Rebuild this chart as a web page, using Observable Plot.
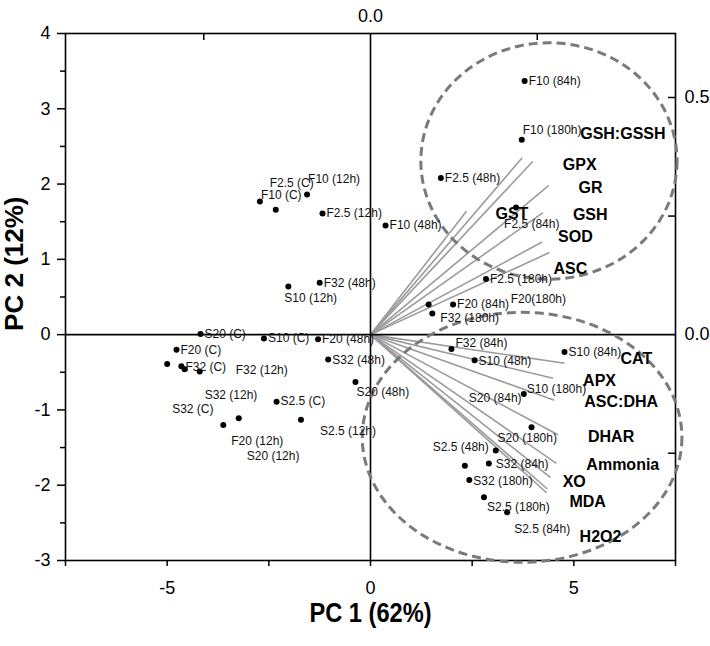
<!DOCTYPE html>
<html><head><meta charset="utf-8">
<script src="https://cdn.jsdelivr.net/npm/d3@7"></script>
<script src="https://cdn.jsdelivr.net/npm/@observablehq/plot@0.6"></script>
<style>
  html,body{margin:0;padding:0;background:#fff;}
  #chart svg{display:block;}
</style>
</head><body><div id="chart"></div>
<script>
// ---- sample scores (PC1, PC2) ----
const sampleNames = [
  "F10 (C)","F2.5 (C)","F10 (12h)","F2.5 (12h)","F32 (48h)","S10 (12h)",
  "S20 (C)","S10 (C)","F20 (48h)","F20 (C)","S32 (C)","F32 (C)","S32 (12h)","F32 (12h)",
  "S32 (48h)","S20 (48h)","S2.5 (C)","F20 (12h)","S20 (12h)","S2.5 (12h)",
  "F10 (48h)","F2.5 (180h)","F20 (84h)","F20(180h)","F32 (180h)",
  "F10 (84h)","F10 (180h)","F2.5 (48h)","F2.5 (84h)",
  "F32 (84h)","S10 (48h)","S10 (84h)","S10 (180h)","S20 (84h)","S20 (180h)",
  "S2.5 (48h)","S32 (84h)","S32 (180h)","S2.5 (180h)","S2.5 (84h)"
];
const pc1 = [
  -2.72,-2.33,-1.56,-1.18,-1.25,-2.02,
  -4.18,-2.62,-1.29,-4.77,-5.00,-4.65,-4.57,-4.20,
  -1.04,-0.37,-2.31,-3.62,-3.24,-1.71,
  0.37,2.84,2.03,1.43,1.52,
  3.79,3.72,1.73,3.58,
  1.99,2.56,4.77,3.77,2.32,3.96,
  3.08,2.91,2.43,2.79,3.36
];
const pc2 = [
  1.77,1.66,1.86,1.61,0.69,0.64,
  0.01,-0.05,-0.06,-0.20,-0.39,-0.42,-0.46,-0.49,
  -0.33,-0.63,-0.89,-1.20,-1.11,-1.13,
  1.45,0.74,0.40,0.40,0.28,
  3.37,2.59,2.08,1.69,
  -0.19,-0.34,-0.23,-0.79,-1.74,-1.23,
  -1.54,-1.71,-1.93,-2.16,-2.36
];

// ---- variable loadings (biplot-scaled to PC score units) ----
const variableNames = ["GSH:GSSH","GPX","GR","GST","GSH","SOD","ASC",
  "CAT","APX","ASC:DHA","DHAR","Ammonia","XO","MDA","H2O2"];
const loadX = [3.73,3.99,4.38,2.36,4.24,4.22,4.40, 4.77,4.49,4.52,4.61,4.57,4.43,4.35,4.33];
const loadY = [2.35,2.30,1.98,1.64,1.62,1.23,1.09, -0.38,-0.58,-0.87,-1.33,-1.71,-1.90,-2.05,-2.10];

// ---- grouping ellipses (center, radii in PC units) ----
const ellipseCx = [4.40, 3.74];
const ellipseCy = [2.30, -1.37];
const ellipseRx = [3.15, 3.93];
const ellipseRy = [1.57, 1.66];

// ---- axes ----
const xDomain = [-7.5, 7.5];
const yDomain = [-3, 4];
const xMajorTicks = [-5, 0, 5];
const xMinorTicks = [-7.5, -2.5, 2.5, 7.5];
const yMajorTicks = [-3, -2, -1, 0, 1, 2, 3, 4];
const yMinorTicks = [-2.5, -1.5, -0.5, 0.5, 1.5, 2.5, 3.5];
const loadingScaleX = 8.2;   // PC units per loading unit (top axis)
const loadingScaleY = 6.3;   // PC units per loading unit (right axis)
const topLoadingTicks = [-0.5, 0.5];
const topLoadingLabels = [0.0];
const rightLoadingTicks = [-0.25, 0.25, 0.5];
const rightLoadingLabels = [0.0, 0.5];
const xTitle = "PC 1 (62%)";
const yTitle = "PC 2 (12%)";

// ---- label placement (pixel offsets, styling only) ----
const samplePlacement = {
  "F10 (C)":[1,-6],"F2.5 (C)":[-6,-27],"F10 (12h)":[1,-15],"F2.5 (12h)":[4,0],
  "F32 (48h)":[4,0],"S10 (12h)":[-4,12],"S20 (C)":[4,0],"S10 (C)":[4,0],
  "F20 (48h)":[4,0],"F20 (C)":[4,0],"S32 (C)":[5,45],"F32 (C)":[4,1],
  "S32 (12h)":[20,26],"F32 (12h)":[36,-1],"S32 (48h)":[4,1],"S20 (48h)":[1,10],
  "S2.5 (C)":[4,0],"F20 (12h)":[8,16],"S20 (12h)":[8,38],"S2.5 (12h)":[19,11],
  "F10 (48h)":[4,0],"F2.5 (180h)":[4,0],"F20 (84h)":[4,0],"F20(180h)":[82,-5],
  "F32 (180h)":[8,5],"F10 (84h)":[4,0],"F10 (180h)":[1,-9],"F2.5 (48h)":[4,0],
  "F2.5 (84h)":[-12,17],"F32 (84h)":[4,-6],"S10 (48h)":[4,1],"S10 (84h)":[4,0],
  "S10 (180h)":[3,-5],"S20 (84h)":[4,-67],"S20 (180h)":[-34,11],
  "S2.5 (48h)":[-7,-3,"end"],"S32 (84h)":[7,1],"S32 (180h)":[4,1],
  "S2.5 (180h)":[3,10],"S2.5 (84h)":[7,17]
};
const variablePlacement = {
  "GSH:GSSH":[58,-24],"GPX":[30,3],"GR":[30,2],"GST":[29,3],"GSH":[30,2],
  "SOD":[16,-5],"ASC":[4,16],"CAT":[56,-4],"APX":[30,3],"ASC:DHA":[30,2],
  "DHAR":[30,2],"Ammonia":[30,1],"XO":[12,4],"MDA":[22,13],"H2O2":[33,44]
};

const samples = sampleNames.map((name, i) => ({name, x: pc1[i], y: pc2[i]}));
const variables = variableNames.map((name, i) => ({name, x: loadX[i], y: loadY[i]}));
const ellipses = ellipseCx.map((cx, i) => ({cx, cy: ellipseCy[i], rx: ellipseRx[i], ry: ellipseRy[i]}));

const sans = "'Liberation Sans',Arial,Helvetica,sans-serif";
const fmtInt = d => String(d);
const frameW = 710 - 65 - 35, frameH = 646 - 33 - 86;

const ellipseMark = (index, scales) => {
  const ns = "http://www.w3.org/2000/svg";
  const g = document.createElementNS(ns, "g");
  for (const e of ellipses) {
    const el = document.createElementNS(ns, "ellipse");
    const cx = scales.x(e.cx), cy = scales.y(e.cy);
    el.setAttribute("cx", cx);
    el.setAttribute("cy", cy);
    el.setAttribute("rx", Math.abs(scales.x(e.cx + e.rx) - cx));
    el.setAttribute("ry", Math.abs(scales.y(e.cy + e.ry) - cy));
    el.setAttribute("fill", "none");
    el.setAttribute("stroke", "#7a7a7a");
    el.setAttribute("stroke-width", 3);
    el.setAttribute("stroke-dasharray", "9,5");
    g.appendChild(el);
  }
  return g;
};

const sampleLabelMarks = samples.map(s => {
  const p = samplePlacement[s.name] || [4, 0];
  return Plot.text([s], {x: "x", y: "y", text: "name", dx: p[0], dy: p[1],
    textAnchor: p[2] || "start", fontSize: 12, fontFamily: sans, fill: "#111"});
});
const variableLabelMarks = variables.map(v => {
  const p = variablePlacement[v.name] || [30, 2];
  return Plot.text([v], {x: "x", y: "y", text: "name", dx: p[0], dy: p[1],
    textAnchor: "start", fontSize: 16, fontWeight: "bold", fontFamily: sans, fill: "#000"});
});

const chart = Plot.plot({
  width: 710,
  height: 646,
  marginLeft: 65,
  marginRight: 35,
  marginTop: 33,
  marginBottom: 86,
  style: {fontFamily: sans, fontSize: "18px", color: "#000", background: "#fff"},
  x: {domain: xDomain, axis: null},
  y: {domain: yDomain, axis: null},
  marks: [
    // bottom axis
    Plot.axisX({ticks: xMajorTicks, anchor: "bottom", tickSize: 6, tickPadding: 15, fontSize: 18, tickFormat: fmtInt, label: null, strokeWidth: 1.5}),
    Plot.axisX({ticks: xMinorTicks, anchor: "bottom", tickSize: 6, tickFormat: () => "", label: null, strokeWidth: 1.5}),
    // left axis
    Plot.axisY({ticks: yMajorTicks, anchor: "left", tickSize: 8, tickPadding: 7, fontSize: 18, tickFormat: fmtInt, label: null, strokeWidth: 1.5}),
    Plot.axisY({ticks: yMinorTicks, anchor: "left", tickSize: 5, tickFormat: () => "", label: null, strokeWidth: 1.5}),
    // top (loading) axis: inward ticks + label
    Plot.ruleX(topLoadingTicks.map(v => v * loadingScaleX), {stroke: "#000", strokeWidth: 1.5, insetBottom: frameH - 7}),
    Plot.axisX({ticks: topLoadingLabels.map(v => v * loadingScaleX), anchor: "top", tickSize: 0, tickPadding: 12, fontSize: 18,
      tickFormat: d => d3.format(".1f")(d / loadingScaleX), label: null}),
    // right (loading) axis: inward ticks + labels
    Plot.ruleY(rightLoadingTicks.map(v => v * loadingScaleY), {stroke: "#000", strokeWidth: 1.5, insetLeft: frameW - 7}),
    Plot.axisY({ticks: rightLoadingLabels.map(v => v * loadingScaleY), anchor: "right", tickSize: 0, tickPadding: 9, fontSize: 18,
      tickFormat: d => d3.format(".1f")(d / loadingScaleY), label: null}),
    // loading vectors
    Plot.link(variables, {x1: 0, y1: 0, x2: "x", y2: "y", stroke: "#9b9b9b", strokeWidth: 1.6}),
    // crosshair + frame
    Plot.ruleX([0], {stroke: "#000", strokeWidth: 1.6}),
    Plot.ruleY([0], {stroke: "#000", strokeWidth: 1.6}),
    Plot.frame({stroke: "#000", strokeWidth: 1.6}),
    ellipseMark,
    Plot.dot(samples, {x: "x", y: "y", r: 3, fill: "#000", stroke: null}),
    ...sampleLabelMarks,
    ...variableLabelMarks,
    // axis titles
    Plot.text([xTitle], {x: 0, frameAnchor: "bottom", dy: 61, text: d => d, fontSize: 27, fontWeight: "bold", className: "x-title"}),
    Plot.text([yTitle], {y: 0.05, frameAnchor: "left", dx: -51, rotate: -90, text: d => d, fontSize: 26, fontWeight: "bold"})
  ]
});
// condense the x-axis title to match the narrow bold face of the reference
d3.select(chart).selectAll(".x-title text").attr("textLength", 122).attr("lengthAdjust", "spacingAndGlyphs");
document.getElementById("chart").appendChild(chart);
</script>
</body></html>
